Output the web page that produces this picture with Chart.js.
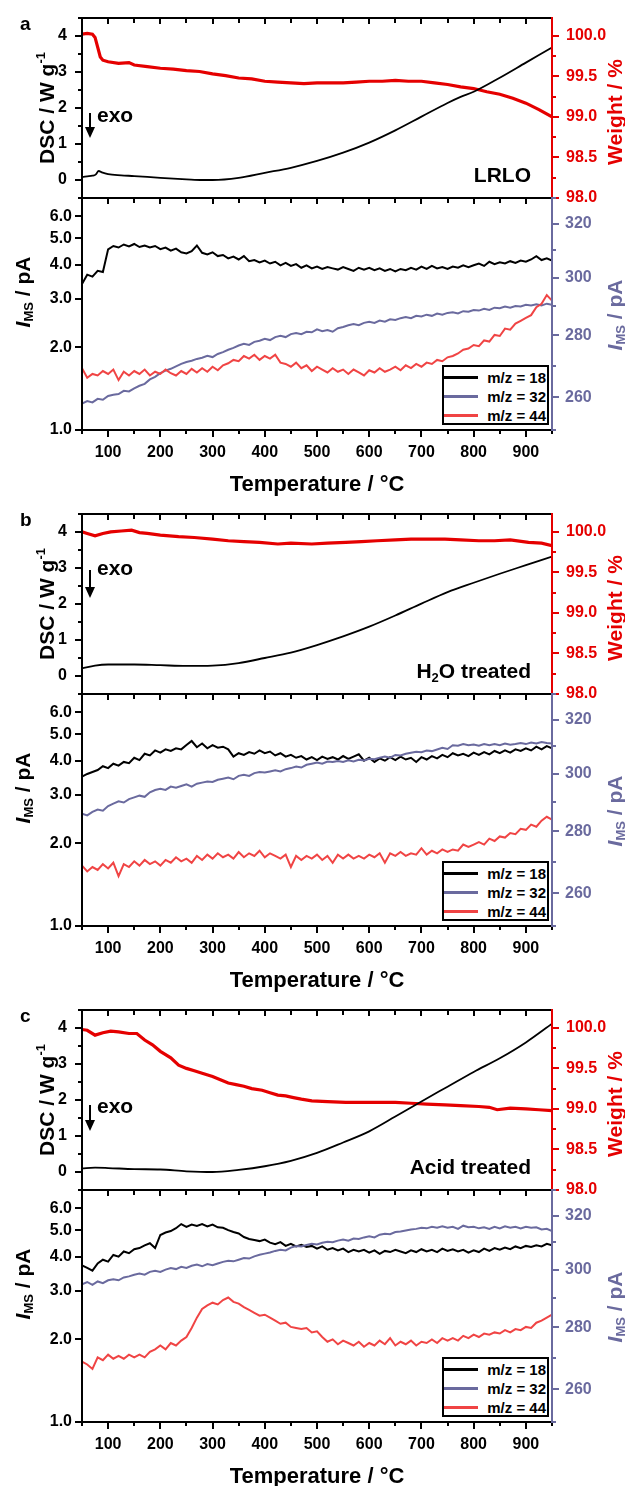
<!DOCTYPE html>
<html>
<head>
<meta charset="utf-8">
<script src="https://cdn.jsdelivr.net/npm/chart.js@4.4.1/dist/chart.umd.min.js"></script>
<style>
  html, body { margin: 0; padding: 0; background: #fff; }
  #fig { position: relative; width: 625px; height: 1486px; overflow: hidden;
         font-family: "Liberation Sans", Arial, sans-serif; font-weight: bold; color: #000; }
  #fig canvas { position: absolute; left: 0; }
  .t   { position: absolute; white-space: nowrap; line-height: 1; }
  .rot { position: absolute; white-space: nowrap; line-height: 1; transform: translate(-50%, -50%) rotate(-90deg); }
  .t sub, .rot sub { font-size: 13px; line-height: 0; vertical-align: -0.28em; }
  .rot sup { font-size: 13px; line-height: 0; vertical-align: 0.62em; }
  .legend { position: absolute; border: 2px solid #000; background: #fff; box-sizing: border-box; }
  .legend .ln { position: absolute; left: 0; width: 34px; height: 3px; }
  .legend .lt { position: absolute; right: 1px; font-size: 15px; line-height: 1; white-space: nowrap; }
</style>
</head>
<body>
<div id="fig"></div>
<script>
/* ── data ─────────────────────────────────────────────────────── */

// shared temperature grid of the MS traces (°C)
const TEMP_MS = [50,60,70,80,90,100,110,120,130,140,
  150,160,170,180,190,200,210,220,230,240,
  250,260,270,280,290,300,310,320,330,340,
  350,360,370,380,390,400,410,420,430,440,
  450,460,470,480,490,500,510,520,530,540,
  550,560,570,580,590,600,610,620,630,640,
  650,660,670,680,690,700,710,720,730,740,
  750,760,770,780,790,800,810,820,830,840,
  850,860,870,880,890,900,910,920,930,940,
  950];

// x ticks
const X_TICKS = [100, 200, 300, 400, 500, 600, 700, 800, 900];
const X_MINOR = [50, 150, 250, 350, 450, 550, 650, 750, 850, 950];
// y ticks
const DSC_TICKS = [0, 1, 2, 3, 4];
const DSC_MINOR = [-0.5, 0.5, 1.5, 2.5, 3.5, 4.5];
const WT_TICKS = [98.0, 98.5, 99.0, 99.5, 100.0];
const WT_MINOR = [98.25, 98.75, 99.25, 99.75];
const MS_TICKS = [1, 2, 3, 4, 5, 6];
const MS_R_TICKS = [260, 280, 300, 320];
const MS_R_MINOR = [250, 270, 290, 310, 330];

// DSC (W g-1)
const DSC_T_A = [50,60,70,76,82,88,100,125,150,200,250,280,300,350,400,450,500,550,600,650,700,750,775,800,850,900,950];
const DSC_A   = [0.08,0.10,0.12,0.15,0.25,0.21,0.16,0.13,0.11,0.06,0.02,0.00,0.00,0.06,0.20,0.34,0.53,0.76,1.04,1.38,1.76,2.14,2.31,2.45,2.84,3.26,3.68];
const DSC_T   = [50,75,100,150,200,250,300,350,400,450,500,550,600,650,700,750,800,850,900,950];
const DSC_B   = [0.21,0.29,0.32,0.32,0.30,0.28,0.29,0.36,0.50,0.65,0.86,1.10,1.37,1.68,2.01,2.33,2.59,2.84,3.08,3.32];
const DSC_C   = [0.10,0.12,0.11,0.08,0.07,0.02,0.00,0.06,0.16,0.31,0.53,0.82,1.13,1.54,1.96,2.37,2.78,3.16,3.60,4.12];

// weight (%)
const WT_T_A = [50,60,70,75,80,85,90,100,120,140,150,175,200,225,250,275,300,325,350,375,400,425,450,475,500,525,550,575,600,625,650,675,700,725,750,775,800,825,850,875,900,925,950];
const WT_A   = [100.02,100.03,100.02,99.98,99.86,99.74,99.70,99.68,99.66,99.67,99.64,99.62,99.60,99.59,99.57,99.56,99.53,99.51,99.48,99.47,99.44,99.43,99.42,99.41,99.42,99.42,99.42,99.43,99.44,99.44,99.45,99.44,99.44,99.42,99.40,99.37,99.35,99.31,99.28,99.23,99.17,99.09,99.00];
const WT_T_B = [50,60,75,90,105,125,145,160,175,200,235,265,300,330,360,390,425,450,490,520,555,585,615,650,680,710,745,775,810,840,870,905,930,950];
const WT_B   = [100.00,99.98,99.95,99.98,100.00,100.01,100.02,99.99,99.98,99.96,99.94,99.93,99.91,99.89,99.88,99.87,99.85,99.86,99.85,99.86,99.87,99.88,99.89,99.90,99.91,99.91,99.91,99.90,99.89,99.89,99.90,99.87,99.86,99.83];
const WT_T_C = [50,60,75,90,105,120,140,155,170,185,200,220,235,250,265,280,300,315,330,345,360,375,395,410,425,440,455,470,490,520,555,585,615,650,680,710,745,775,810,830,845,870,900,925,950];
const WT_C   = [99.98,99.97,99.91,99.94,99.96,99.95,99.93,99.93,99.85,99.79,99.71,99.63,99.54,99.50,99.47,99.44,99.40,99.36,99.32,99.30,99.28,99.25,99.23,99.20,99.17,99.16,99.14,99.12,99.10,99.09,99.08,99.08,99.08,99.08,99.07,99.06,99.05,99.04,99.03,99.02,98.99,99.01,99.00,98.99,98.98];

// MS ion currents: m/z 18 and 44 on the left (pA, log), m/z 32 on the right (pA, log)
const MS18_A = [3.40,3.68,3.62,3.80,3.76,4.55,4.68,4.62,4.74,4.66,
  4.76,4.64,4.70,4.62,4.68,4.56,4.62,4.50,4.58,4.44,
  4.40,4.48,4.70,4.42,4.36,4.44,4.30,4.34,4.22,4.28,
  4.18,4.30,4.12,4.16,4.08,4.14,4.04,4.10,3.98,4.06,
  3.96,4.02,3.90,3.98,3.88,3.94,3.86,3.92,3.88,3.84,
  3.92,3.86,3.80,3.90,3.84,3.90,3.82,3.88,3.80,3.86,
  3.78,3.86,3.82,3.90,3.84,3.94,3.86,3.96,3.88,3.92,
  3.86,3.94,3.90,3.98,3.92,3.98,4.04,3.96,4.10,4.02,
  4.08,4.04,4.12,4.06,4.14,4.10,4.18,4.30,4.16,4.22,
  4.14];
const MS32_A = [258.0,258.8,258.4,259.5,259.2,260.4,260.8,261.0,262.0,261.8,
  262.8,263.6,264.2,265.6,266.4,267.6,268.4,269.0,269.8,270.6,
  271.2,271.6,272.2,272.6,273.2,272.8,273.8,274.4,275.2,275.8,
  276.6,277.2,276.8,277.8,278.2,278.8,278.4,279.4,279.8,279.4,
  280.4,280.8,280.4,281.2,281.0,282.0,281.4,281.8,281.2,282.4,
  282.8,283.4,283.8,283.4,284.2,284.6,284.2,285.0,284.6,285.4,
  285.2,285.8,286.2,285.8,286.6,286.4,287.0,286.6,287.4,287.0,
  287.6,287.8,287.4,288.2,288.0,288.6,288.4,289.0,288.6,289.4,
  289.2,289.8,289.4,290.0,289.8,290.4,290.2,290.6,290.2,290.8,
  290.4];
const MS44_A = [1.68,1.55,1.60,1.58,1.64,1.60,1.66,1.52,1.63,1.58,
  1.64,1.60,1.66,1.58,1.63,1.60,1.66,1.61,1.58,1.64,
  1.60,1.67,1.62,1.68,1.63,1.70,1.65,1.72,1.75,1.80,
  1.78,1.86,1.82,1.88,1.80,1.86,1.82,1.88,1.76,1.74,
  1.70,1.76,1.68,1.72,1.64,1.70,1.66,1.62,1.68,1.63,
  1.66,1.60,1.66,1.62,1.58,1.65,1.62,1.68,1.63,1.66,
  1.70,1.65,1.72,1.68,1.74,1.70,1.76,1.74,1.80,1.78,
  1.84,1.86,1.90,1.96,1.98,2.04,2.02,2.12,2.10,2.22,
  2.20,2.34,2.32,2.44,2.50,2.56,2.62,2.80,2.88,3.10,
  2.96];

const MS18_B = [3.50,3.58,3.64,3.70,3.82,3.76,3.90,3.84,3.96,3.92,
  4.10,4.02,4.24,4.18,4.36,4.28,4.40,4.34,4.44,4.40,
  4.56,4.72,4.48,4.62,4.44,4.56,4.46,4.50,4.40,4.14,
  4.26,4.20,4.30,4.24,4.36,4.26,4.32,4.18,4.26,4.14,
  4.20,4.10,4.16,4.04,4.12,4.02,4.14,4.06,4.12,4.04,
  4.16,4.06,4.14,4.22,4.00,4.10,3.96,4.08,4.00,4.12,
  4.02,4.14,4.04,4.10,3.96,4.12,4.04,4.16,4.08,4.20,
  4.12,4.26,4.18,4.24,4.16,4.28,4.20,4.30,4.22,4.34,
  4.26,4.36,4.28,4.40,4.34,4.44,4.36,4.50,4.40,4.52,
  4.44];
const MS32_B = [286.0,285.4,286.6,287.4,287.0,288.6,289.4,290.2,289.8,291.0,
  291.6,292.2,291.8,293.4,294.2,294.6,294.2,295.4,295.0,295.6,
  296.2,295.4,296.4,296.8,297.2,297.0,297.8,298.2,298.6,298.0,
  299.2,299.6,299.2,300.2,300.6,300.4,300.8,301.2,300.8,301.6,
  302.0,302.6,302.2,303.2,303.6,304.0,303.6,304.4,304.2,304.6,
  304.2,304.8,304.4,305.0,304.8,305.4,305.2,305.8,306.2,305.8,
  306.8,306.6,307.2,307.6,308.0,307.8,308.4,308.2,308.8,309.4,
  309.0,310.4,310.2,310.8,310.4,310.6,310.2,310.8,310.4,310.8,
  310.4,311.0,310.6,310.8,311.2,310.8,311.4,311.0,311.6,311.2,
  311.0];
const MS44_B = [1.66,1.58,1.64,1.60,1.68,1.62,1.70,1.52,1.68,1.64,
  1.72,1.66,1.74,1.68,1.72,1.66,1.74,1.70,1.78,1.72,
  1.76,1.70,1.80,1.74,1.82,1.76,1.84,1.78,1.82,1.76,
  1.86,1.78,1.84,1.80,1.88,1.78,1.84,1.80,1.76,1.82,
  1.64,1.80,1.74,1.80,1.76,1.82,1.74,1.80,1.70,1.82,
  1.76,1.82,1.76,1.80,1.76,1.82,1.78,1.84,1.70,1.84,
  1.80,1.86,1.80,1.84,1.82,1.92,1.82,1.88,1.84,1.90,
  1.86,1.90,1.88,1.98,1.94,1.98,2.02,1.98,2.08,2.04,
  2.12,2.10,2.18,2.16,2.26,2.24,2.34,2.30,2.42,2.50,
  2.44];

const MS18_C = [3.72,3.64,3.56,3.78,3.90,3.84,4.06,4.00,4.18,4.12,
  4.26,4.30,4.40,4.48,4.30,4.80,4.90,4.96,5.08,5.26,
  5.14,5.24,5.18,5.26,5.16,5.24,5.12,5.10,5.00,4.92,
  4.86,4.72,4.64,4.60,4.56,4.62,4.50,4.44,4.52,4.38,
  4.46,4.36,4.42,4.34,4.38,4.28,4.36,4.24,4.30,4.22,
  4.28,4.16,4.24,4.18,4.24,4.14,4.22,4.10,4.20,4.16,
  4.24,4.18,4.12,4.22,4.16,4.26,4.18,4.24,4.16,4.28,
  4.20,4.26,4.18,4.24,4.14,4.22,4.16,4.28,4.20,4.30,
  4.24,4.32,4.26,4.36,4.30,4.38,4.34,4.40,4.36,4.46,
  4.40];
const MS32_C = [294.8,295.6,294.6,295.8,295.2,296.2,296.6,296.2,297.2,297.6,
  298.2,298.6,298.2,299.2,299.6,299.2,300.0,300.6,300.2,301.0,
  300.6,301.4,301.8,301.2,302.0,301.6,302.2,302.8,303.2,303.0,
  303.6,304.2,304.0,304.8,305.4,305.8,306.2,306.8,307.2,307.0,
  308.0,308.6,308.4,309.0,309.4,309.2,309.8,310.2,310.0,310.6,
  311.0,310.6,311.4,311.2,311.8,312.2,311.8,312.8,313.2,313.0,
  313.8,314.0,314.4,314.8,315.0,315.4,315.2,315.8,315.4,316.0,
  315.4,315.8,315.0,316.2,315.6,315.8,315.2,315.6,315.0,315.8,
  315.2,316.0,315.4,315.8,315.2,315.8,315.4,315.6,314.8,315.0,
  314.2];
const MS44_C = [1.66,1.62,1.56,1.72,1.68,1.76,1.70,1.74,1.70,1.76,
  1.72,1.76,1.72,1.80,1.84,1.90,1.84,1.94,1.90,1.98,
  2.04,2.20,2.40,2.58,2.66,2.72,2.68,2.78,2.84,2.74,
  2.70,2.62,2.56,2.50,2.44,2.46,2.40,2.34,2.28,2.30,
  2.22,2.20,2.18,2.20,2.12,2.14,2.04,1.96,2.00,1.92,
  1.98,1.94,1.90,1.96,1.88,1.94,1.90,1.98,1.92,2.02,
  1.90,1.96,1.92,1.98,1.90,1.96,1.94,2.00,1.94,2.02,
  1.98,2.02,1.98,2.06,2.02,2.08,2.04,2.10,2.08,2.12,
  2.10,2.16,2.12,2.18,2.16,2.22,2.20,2.30,2.34,2.40,
  2.46];

const SAMPLES = ['LRLO', 'H<sub>2</sub>O treated', 'Acid treated'];
const LETTERS = ['a', 'b', 'c'];
const LEGEND = ['m/z = 18', 'm/z = 32', 'm/z = 44'];

/* ── layout & style ───────────────────────────────────────────── */
const W = 625;
const PANEL_TOPS = [18, 514, 1010];
const TOP_H = 180, BOT_H = 232;
const AX_L = 82, AX_R = 552;
const PAD = 14, XAX_H = 72;
const EXO = [{ a: 95, b: 120, t: 104 }, { a: 56, b: 84, t: 61 }, { a: 95, b: 121, t: 103 }];

const C_BLACK = '#000000';
const C_WT = '#e50000';
const C_44 = '#f04444';
const C_32 = '#6a6a9e';
const FAMILY = '"Liberation Sans", Arial, sans-serif';
const TICK_FONT = { family: FAMILY, size: 16, weight: 'bold' };

Chart.defaults.font.family = FAMILY;

const fig = document.getElementById('fig');
const pts = (xs, ys) => xs.map((x, i) => ({ x, y: ys[i] }));
const fixed = (scale, list) => { scale.ticks = list.map(v => ({ value: v })); };

// frame, inward/outward tick marks (Origin style), placed through the chart scales
const framePlugin = {
  id: 'frame',
  afterDraw(chart, args, o) {
    const { ctx, chartArea: a, scales } = chart;
    const seg = (x1, y1, x2, y2, c) => {
      ctx.strokeStyle = c; ctx.beginPath(); ctx.moveTo(x1, y1); ctx.lineTo(x2, y2); ctx.stroke();
    };
    ctx.save();
    ctx.lineWidth = 2;
    X_TICKS.forEach(v => {
      const px = Math.round(scales.x.getPixelForValue(v));
      seg(px, a.top, px, a.top + 6, C_BLACK);
      if (o.xOut) seg(px, a.bottom, px, a.bottom + 7, C_BLACK);
    });
    X_MINOR.forEach(v => {
      const px = Math.round(scales.x.getPixelForValue(v));
      seg(px, a.top, px, a.top + 5, C_BLACK);
      if (o.xOut) seg(px, a.bottom, px, a.bottom + 4, C_BLACK);
    });
    o.leftMajor.forEach(v => { const py = Math.round(scales.yl.getPixelForValue(v)); seg(a.left - 7, py, a.left, py, C_BLACK); });
    o.leftMinor.forEach(v => { const py = Math.round(scales.yl.getPixelForValue(v)); seg(a.left - 4, py, a.left, py, C_BLACK); });
    o.rightMajor.forEach(v => { const py = Math.round(scales.yr.getPixelForValue(v)); seg(a.right, py, a.right + 7, py, o.rightColor); });
    o.rightMinor.forEach(v => { const py = Math.round(scales.yr.getPixelForValue(v)); seg(a.right, py, a.right + 4, py, o.rightColor); });
    seg(a.left, a.top, a.right, a.top, C_BLACK);
    seg(a.left, a.bottom, a.right, a.bottom, C_BLACK);
    seg(a.left, a.top - 1, a.left, a.bottom + 1, C_BLACK);
    seg(a.right, a.top - 1, a.right, a.bottom + 1, o.rightColor);
    ctx.restore();
  }
};

function yAxis(pos, type, min, max, ticks, color, pad, fmt) {
  return {
    type, position: pos, min, max,
    afterBuildTicks: s => fixed(s, ticks),
    // fixed width, and no extra room asked for half-labels at the ends
    afterFit: s => { s.width = pos === 'left' ? AX_L : W - AX_R; s.paddingTop = 0; s.paddingBottom = 0; },
    grid: { display: false, drawTicks: false },
    border: { display: false },
    ticks: { padding: pad, color, font: TICK_FONT, autoSkip: false, callback: fmt }
  };
}

function canvasAt(top, height) {
  const c = document.createElement('canvas');
  c.width = W; c.height = height; c.style.top = top + 'px';
  fig.appendChild(c);
  return c;
}

function html(cls, style, inner) {
  const d = document.createElement('div');
  d.className = cls; d.innerHTML = inner;
  Object.assign(d.style, style);
  fig.appendChild(d);
  return d;
}
// place text with its baseline at y (line-height 1)
const base = (y, fs) => (y - 0.8465 * fs) + 'px';

const BASE_OPTS = {
  responsive: false, animation: false, events: [], devicePixelRatio: 1
};

const SETS = [
  { dscT: DSC_T_A, dsc: DSC_A, wtT: WT_T_A, wt: WT_A, m18: MS18_A, m32: MS32_A, m44: MS44_A },
  { dscT: DSC_T,   dsc: DSC_B, wtT: WT_T_B, wt: WT_B, m18: MS18_B, m32: MS32_B, m44: MS44_B },
  { dscT: DSC_T,   dsc: DSC_C, wtT: WT_T_C, wt: WT_C, m18: MS18_C, m32: MS32_C, m44: MS44_C }
];

SETS.forEach((d, i) => {
  const top = PANEL_TOPS[i];
  const bTop = top + TOP_H;

  // upper plot: DSC + weight
  new Chart(canvasAt(top - PAD, TOP_H + 2 * PAD), {
    type: 'line',
    data: { datasets: [
      { data: pts(d.dscT, d.dsc), yAxisID: 'yl', borderColor: C_BLACK, borderWidth: 1.8,
        pointRadius: 0, cubicInterpolationMode: 'monotone' },
      { data: pts(d.wtT, d.wt), yAxisID: 'yr', borderColor: C_WT, borderWidth: 3.2, pointRadius: 0, tension: 0 }
    ]},
    options: Object.assign({}, BASE_OPTS, {
      layout: { padding: { top: PAD, bottom: PAD, left: 0, right: 0 } },
      plugins: {
        legend: { display: false }, tooltip: { enabled: false },
        frame: { xOut: false, rightColor: C_WT, leftMajor: DSC_TICKS, leftMinor: DSC_MINOR, rightMajor: WT_TICKS, rightMinor: WT_MINOR }
      },
      scales: {
        x: { type: 'linear', min: 50, max: 950, display: false },
        yl: yAxis('left', 'linear', -0.5, 4.5, DSC_TICKS, C_BLACK, 15, v => String(v)),
        yr: yAxis('right', 'linear', 98, 100.22, WT_TICKS, C_WT, 14, v => v.toFixed(1))
      }
    }),
    plugins: [framePlugin]
  });

  // lower plot: MS traces
  new Chart(canvasAt(bTop - PAD, BOT_H + PAD + XAX_H), {
    type: 'line',
    data: { datasets: [
      { data: pts(TEMP_MS, d.m44), yAxisID: 'yl', borderColor: C_44, borderWidth: 2, pointRadius: 0 },
      { data: pts(TEMP_MS, d.m32), yAxisID: 'yr', borderColor: C_32, borderWidth: 2, pointRadius: 0 },
      { data: pts(TEMP_MS, d.m18), yAxisID: 'yl', borderColor: C_BLACK, borderWidth: 2, pointRadius: 0 }
    ]},
    options: Object.assign({}, BASE_OPTS, {
      layout: { padding: { top: PAD, bottom: 0, left: 0, right: 0 } },
      plugins: {
        legend: { display: false }, tooltip: { enabled: false },
        frame: { xOut: true, rightColor: C_32, leftMajor: MS_TICKS, leftMinor: [], rightMajor: MS_R_TICKS, rightMinor: MS_R_MINOR }
      },
      scales: {
        x: {
          type: 'linear', position: 'bottom', min: 50, max: 950,
          afterBuildTicks: s => fixed(s, X_TICKS),
          afterFit: s => { s.height = XAX_H; s.paddingLeft = 0; s.paddingRight = 0; },
          grid: { display: false, drawTicks: false },
          border: { display: false },
          ticks: { padding: 13, color: C_BLACK, font: TICK_FONT, autoSkip: false, maxRotation: 0, callback: v => String(v) },
          title: { display: true, text: 'Temperature / °C', color: C_BLACK,
                   font: { family: FAMILY, size: 22, weight: 'bold' }, padding: { top: 0, bottom: 4 } }
        },
        yl: yAxis('left', 'logarithmic', 1, 7, MS_TICKS, C_BLACK, 10, v => v.toFixed(1)),
        yr: yAxis('right', 'logarithmic', 250, 330, MS_R_TICKS, C_32, 13, v => String(v))
      }
    }),
    plugins: [framePlugin]
  });

  // text overlays
  html('t', { left: '20px', top: base(top + 12, 19), fontSize: '19px' }, LETTERS[i]);
  html('rot', { left: '45.5px', top: (top + 90) + 'px', fontSize: '21px' }, 'DSC / W g<sup>-1</sup>');
  html('rot', { left: '614px', top: (top + 94) + 'px', fontSize: '21px', color: C_WT }, 'Weight / %');
  html('rot', { left: '22px', top: (bTop + 94) + 'px', fontSize: '21px' }, '<i>I</i><sub>MS</sub> / pA');
  html('rot', { left: '614px', top: (bTop + 117) + 'px', fontSize: '21px', color: C_32 }, '<i>I</i><sub>MS</sub> / pA');
  html('t', { right: (W - 531) + 'px', top: base(top + 164, 21), fontSize: '21px' }, SAMPLES[i]);
  html('t', { left: '97px', top: base(top + EXO[i].t, 21), fontSize: '21px' }, 'exo');
  const e = EXO[i];
  html('t', { left: '84px', top: (top + e.a) + 'px' },
    `<svg width="12" height="${e.b - e.a + 1}" style="display:block">
       <line x1="6" y1="0" x2="6" y2="${e.b - e.a - 8}" stroke="#000" stroke-width="2"/>
       <polygon points="1,${e.b - e.a - 11} 11,${e.b - e.a - 11} 6,${e.b - e.a}" fill="#000"/>
     </svg>`);

  // legend
  const lg = html('legend', { left: '442px', top: (bTop + 167) + 'px', width: '107px', height: '60px' }, '');
  [C_BLACK, C_32, C_44].forEach((c, k) => {
    const cy = 10.5 + k * 19;
    const ln = document.createElement('div');
    ln.className = 'ln'; ln.style.top = (cy - 1.5) + 'px'; ln.style.background = c;
    lg.appendChild(ln);
    const lt = document.createElement('div');
    lt.className = 'lt'; lt.style.top = (cy - 7.5) + 'px'; lt.textContent = LEGEND[k];
    lg.appendChild(lt);
  });
});
</script>
</body>
</html>
